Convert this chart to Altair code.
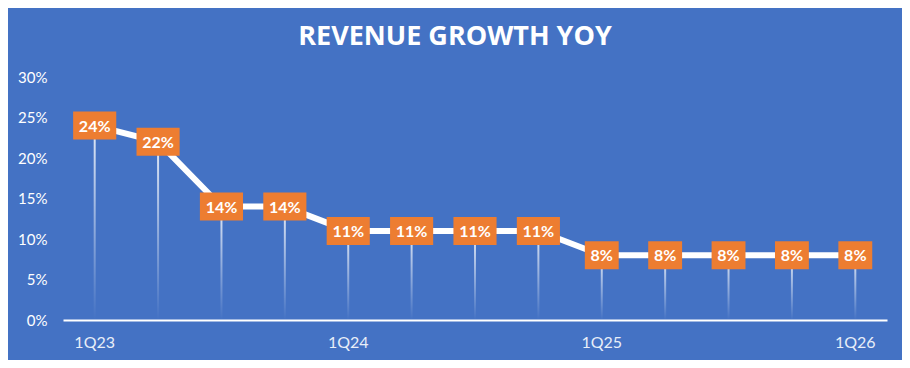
import altair as alt
import pandas as pd

quarters = ["1Q23", "2Q23", "3Q23", "4Q23", "1Q24", "2Q24", "3Q24", "4Q24",
            "1Q25", "2Q25", "3Q25", "4Q25", "1Q26"]
growth = [24, 22, 14, 14, 11, 11, 11, 11, 8, 8, 8, 8, 8]
shown_ticks = ["1Q23", "1Q24", "1Q25", "1Q26"]

df = pd.DataFrame({
    "q": quarters,
    "v": [g / 100 for g in growth],
    "lab": [f"{g}%" for g in growth],
    "w": ["wide" if g >= 10 else "narrow" for g in growth],
})

BG = "#4472C4"
ORANGE = "#ED7D31"
FONT = "Lato"

x = alt.X("q:N", sort=quarters, title=None,
          scale=alt.Scale(type="band", paddingInner=0, paddingOuter=0),
          axis=alt.Axis(labelExpr="indexof(" + str(shown_ticks) + ", datum.value) >= 0 ? datum.value : ''",
                        labelAngle=0, labelColor="#E8EEF8", labelFontSize=16, labelFont=FONT,
                        labelPadding=14, ticks=False, domainColor="white", domainWidth=2,
                        labelOverlap=False, grid=False))
y = alt.Y("v:Q", title=None,
          scale=alt.Scale(domain=[0, 0.30], nice=False),
          axis=alt.Axis(format=".0%", values=[0, .05, .1, .15, .2, .25, .3], labelColor="white",
                        labelFontSize=15, labelFont=FONT, labelPadding=16, ticks=False,
                        domain=False, grid=False))

base = alt.Chart(df)

drops = base.mark_bar(
    size=2,
    color=alt.Gradient(
        gradient="linear",
        stops=[alt.GradientStop(color="rgba(255,255,255,0.85)", offset=0),
               alt.GradientStop(color="rgba(255,255,255,0.0)", offset=1)],
        x1=0, x2=0, y1=0, y2=1,
    ),
).encode(x=x, y=y)

line = base.mark_line(color="white", strokeWidth=6).encode(x=x, y=y)

wide_path = "M-1.54,-1H1.54V1H-1.54Z"
narrow_path = "M-1.21,-1H1.21V1H-1.21Z"
boxes = base.mark_point(filled=True, opacity=1, color=ORANGE, size=784, strokeWidth=0).encode(
    x=x, y=y,
    shape=alt.Shape("w:N", scale=alt.Scale(domain=["wide", "narrow"], range=[wide_path, narrow_path]),
                    legend=None),
)

labels = base.mark_text(color="white", font=FONT, fontWeight="bold", fontSize=16,
                        baseline="middle", dy=1).encode(x=x, y=y, text="lab:N")

chart = alt.layer(drops, line, boxes, labels).properties(
    width=824, height=243,
    background=BG,
    padding={"left": 55, "top": 69, "right": 15, "bottom": 40},
    autosize=alt.AutoSizeParams(type="none"),
    title=alt.TitleParams("REVENUE GROWTH YOY", color="white", font="Open Sans", fontWeight="bold",
                          fontSize=27, anchor="middle", offset=19, dx=-20),
).configure_view(stroke=None)

chart.save("out.html", embed_options={"renderer": "svg", "actions": False})
